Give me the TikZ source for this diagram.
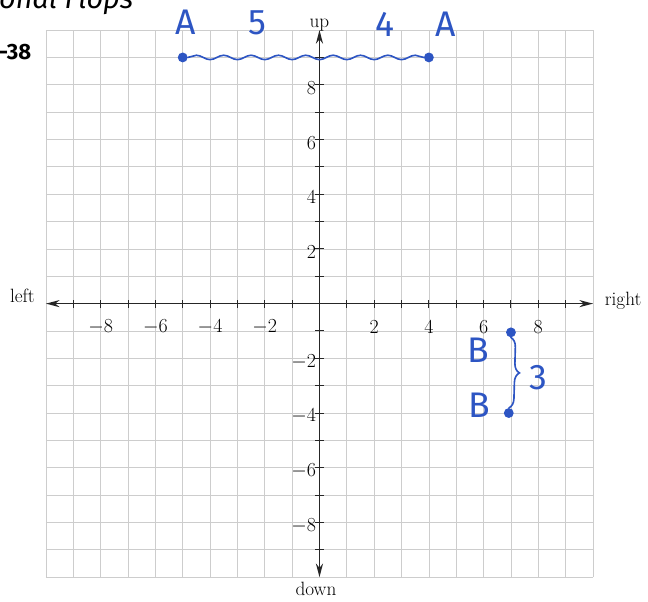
\documentclass[tikz,border=0pt]{standalone}
\usepackage{fontspec}
\newfontfamily\handfont{Fira Sans}
\usetikzlibrary{arrows.meta,decorations.pathmorphing,decorations.pathreplacing}
\definecolor{inkblue}{RGB}{45,85,195}
\definecolor{gridgray}{RGB}{205,205,205}

\begin{document}
\begin{tikzpicture}[
    every node/.style={font=\fontsize{20}{23}\selectfont},
    gridline/.style={gridgray, line width=0.8pt},
    axisline/.style={
        black!85,
        line width=1.5pt,
        {Stealth[length=5mm,width=2.6mm]}-{Stealth[length=5mm,width=2.6mm]}
    },
    tickline/.style={black!85, line width=1pt},
    inkdot/.style={circle, fill=inkblue, inner sep=0pt, minimum size=3.6mm},
    inkline/.style={inkblue, line width=1.7pt, line cap=round},
    ink/.style={text=inkblue, font=\handfont\fontsize{37}{39}\selectfont}
]
\useasboundingbox (-11.68,-10.88) rectangle (12.01,11.10);

% ---------- header (cut off at the page edge) ----------
\begin{scope}
    \clip (-11.68,-10.88) rectangle (12.01,11.10);
    \node[anchor=base west, inner sep=0pt, font=\handfont\itshape\fontsize{30}{32}\selectfont] (title) at (-11.72,10.78) {onal Flops};
\end{scope}
\node[anchor=west, inner sep=0pt, font=\handfont\bfseries\fontsize{23}{25}\selectfont] (fignum) at (-11.72,9.21) {-38};

% ---------- grid ----------
\foreach \i in {-10,...,10}{
    \draw[gridline] (\i,-10) -- (\i,10);
    \draw[gridline] (-10,\i) -- (10,\i);
}

% ---------- axes ----------
\coordinate (xmin) at (-10,0);
\coordinate (xmax) at (10,0);
\coordinate (ymin) at (0,-10);
\coordinate (ymax) at (0,10);
\draw[axisline] (xmin) -- (xmax);
\draw[axisline] (ymin) -- (ymax);

% ticks on both axes
\foreach \i in {-9,...,-1,1,2,...,9}{
    \draw[tickline] (\i,-0.15) -- (\i,0.15);
    \draw[tickline] (-0.15,\i) -- (0.15,\i);
}

% tick numbers
\foreach \i in {-8,-6,-4,-2,2,4,6,8}{
    \node (xl\i) at (\i,-0.86) {$\i$};
    \node[anchor=east, inner sep=0pt] (yl\i) at (-0.12,\i-0.12) {$\i$};
}

% direction words
\node[anchor=base] (up) at (0,10.11) {up};
\node[anchor=base] (down) at (-0.13,-10.66) {down};
\node[anchor=base] (left) at (-10.86,0.03) {left};
\node[anchor=base] (right) at (11.1,-0.08) {right};

% ---------- points A: horizontal distance ----------
\node[inkdot] (A1) at (-5,9) {};
\node[inkdot] (A2) at (4,9) {};
\draw[inkline, decorate, decoration={snake, segment length=1cm, amplitude=0.8mm}] (A1) -- (A2);
\node[ink] (A1lbl) at (-4.9,10.27) {A};
\node[ink] (fivelbl) at (-2.28,10.27) {5};
\node[ink] (fourlbl) at (2.38,10.2) {4};
\node[ink] (A2lbl) at (4.6,10.2) {A};

% ---------- points B: vertical distance ----------
\node[inkdot] (B1) at (7,-1.05) {};
\node[inkdot] (B2) at (6.92,-4) {};
\draw[inkline, decorate, decoration={brace, amplitude=3.5mm}] (B1) -- (B2);
\node[ink] (B1lbl) at (5.82,-1.72) {B};
\node[ink] (B2lbl) at (5.85,-3.71) {B};
\node[ink] (threelbl) at (8.0,-2.7) {3};

\end{tikzpicture}
\end{document}
